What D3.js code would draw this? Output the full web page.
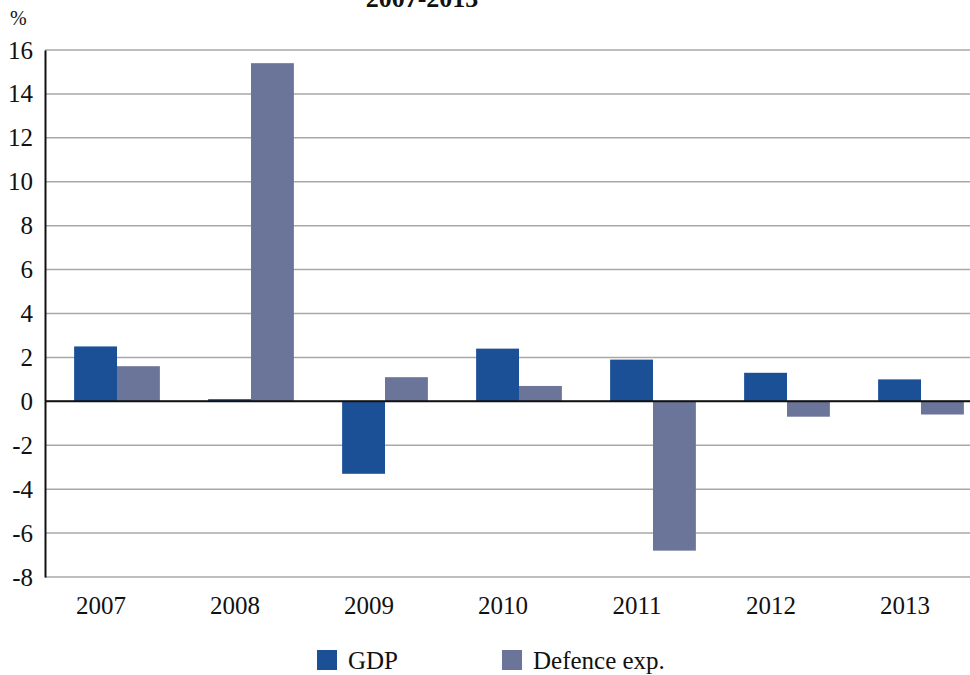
<!DOCTYPE html>
<html><head><meta charset="utf-8">
<script src="https://cdn.jsdelivr.net/npm/d3@7/dist/d3.min.js"></script>
<style>body{margin:0;background:#fff}svg{display:block}
svg text{font-family:'Liberation Serif','DejaVu Serif',serif;fill:#111}</style>
</head><body>
<script>
const title = "2007-2013";
const years = ["2007","2008","2009","2010","2011","2012","2013"];
const gdp = [2.5, 0.1, -3.3, 2.4, 1.9, 1.3, 1.0];
const defence = [1.6, 15.4, 1.1, 0.7, -6.8, -0.7, -0.6];
const seriesNames = ["GDP", "Defence exp."];
const yTicks = [-8,-6,-4,-2,0,2,4,6,8,10,12,14,16];
const colors = ["#1b5096", "#6b7599"];

const W = 970, H = 675;
const svg = d3.select("body").append("svg").attr("width", W).attr("height", H);

const y = d3.scaleLinear().domain([-8, 16]).range([577, 50]);
const x = d3.scaleBand().domain(years).range([50, 988]).paddingInner(0.36).paddingOuter(0.18);
const xs = d3.scaleBand().domain(seriesNames).range([0, x.bandwidth()]);

// gridlines
svg.append("g").selectAll("line").data(yTicks).join("line")
  .attr("x1", 45).attr("x2", W)
  .attr("y1", d => y(d)).attr("y2", d => y(d))
  .attr("stroke", "#a8a8a8").attr("stroke-width", 1.5);

// bars
const data = years.map((yr, i) => ({yr, vals: [gdp[i], defence[i]]}));
const g = svg.append("g").selectAll("g").data(data).join("g")
  .attr("transform", d => `translate(${x(d.yr)},0)`);
g.selectAll("rect").data(d => d.vals.map((v, k) => ({v, k}))).join("rect")
  .attr("x", d => xs(seriesNames[d.k]))
  .attr("width", xs.bandwidth())
  .attr("y", d => y(Math.max(0, d.v)))
  .attr("height", d => Math.abs(y(d.v) - y(0)))
  .attr("fill", d => colors[d.k]);

// zero line
svg.append("line").attr("x1", 45).attr("x2", W).attr("y1", y(0)).attr("y2", y(0))
  .attr("stroke", "#111").attr("stroke-width", 2);

// y axis
const yAxis = svg.append("g").attr("transform", "translate(45,0)")
  .call(d3.axisLeft(y).tickValues(yTicks).tickSize(0).tickPadding(12).tickFormat(d => String(d)));
yAxis.attr("font-family", null).attr("font-size", null);
yAxis.select(".domain").attr("stroke", "#111").attr("stroke-width", 2);
yAxis.selectAll("text").style("font-size", "25px");

// x axis labels
const xAxis = svg.append("g").attr("transform", `translate(0,${y(-8)})`)
  .call(d3.axisBottom(x).tickSize(0).tickPadding(14));
xAxis.attr("font-family", null).attr("font-size", null);
xAxis.select(".domain").remove();
xAxis.selectAll("text").style("font-size", "25px")
  .attr("dx", -16).attr("dy", "0.9em");

// % label
svg.append("text").attr("x", 10).attr("y", 25).text("%").style("font-size", "20px");

// title
svg.append("text").attr("x", 422).attr("y", 7).attr("text-anchor", "middle").text(title)
  .style("font-size", "26px").style("font-weight", "bold");

// legend
const legX = [317, 502];
seriesNames.forEach((s, i) => {
  svg.append("rect").attr("x", legX[i]).attr("y", 650).attr("width", 20).attr("height", 20).attr("fill", colors[i]);
  svg.append("text").attr("x", legX[i] + 31).attr("y", 669).text(s).style("font-size", "25px");
});
</script>
</body></html>
